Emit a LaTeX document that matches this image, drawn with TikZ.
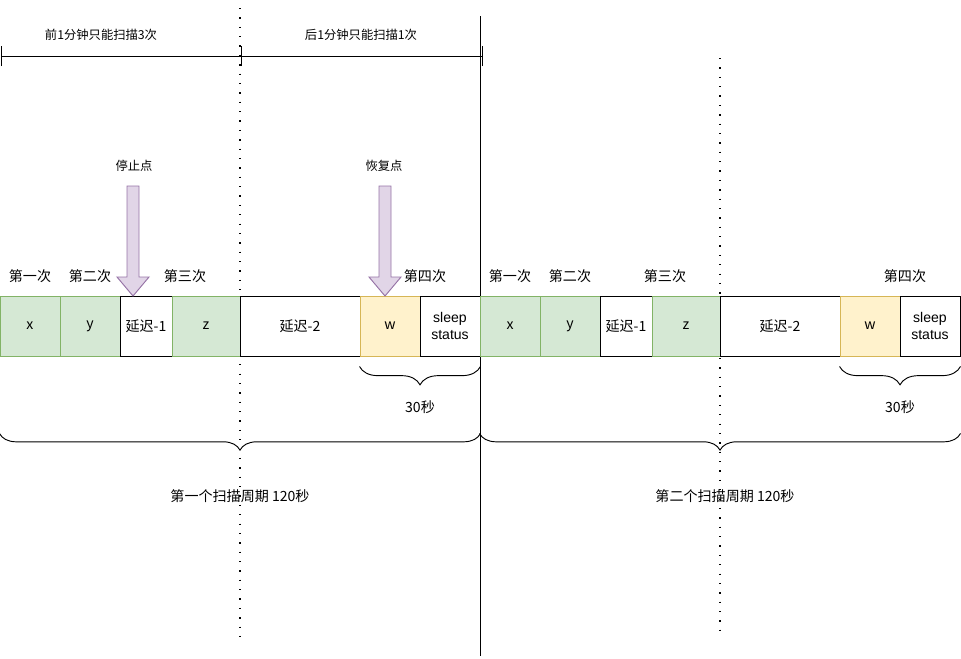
\documentclass[tikz,border=0pt]{standalone}
\usepackage{fontspec}
\setmainfont{Liberation Sans}
\newfontfamily\cjk{Noto Sans CJK SC}
\usetikzlibrary{decorations.pathreplacing}

\tikzset{
  box/.style={draw, line width=0.8pt, minimum height=1.8cm, inner sep=0pt, font=\fontsize{12}{14}\selectfont\cjk, align=center},
  scan/.style={box, fill=scanfill, draw=scanline},
  hit/.style={box, fill=hitfill, draw=hitline},
  label/.style={font=\fontsize{12}{14}\selectfont\cjk, inner sep=1pt},
  small/.style={font=\fontsize{10.5}{12}\selectfont\cjk, inner sep=1pt},
  fatarrow/.style={fill=arrfill, draw=arrline, line width=0.8pt},
  dots/.style={line width=1.1pt, dash pattern=on 1.1pt off 6.9pt},
  curly/.style={decorate, decoration={brace, mirror, amplitude=#1}, line width=0.8pt},
}
\definecolor{scanfill}{HTML}{D5E8D4}
\definecolor{scanline}{HTML}{82B366}
\definecolor{hitfill}{HTML}{FFF2CC}
\definecolor{hitline}{HTML}{D6B656}
\definecolor{arrfill}{HTML}{E1D5E7}
\definecolor{arrline}{HTML}{9673A6}

\begin{document}
\begin{tikzpicture}[x=0.03cm, y=-0.03cm]
\useasboundingbox (0,0) rectangle (961,658);

% time ruler on top
\coordinate (r0) at (1,56);
\coordinate (r1) at (241,56);
\coordinate (r2) at (482,56);
\draw[line width=0.8pt] (r0) -- (r2);
\foreach \r in {r0,r1,r2}
  \draw[line width=0.8pt] ([yshift=-10*0.03cm]\r) -- ([yshift=10*0.03cm]\r);
\node[small] (first) at (101,35) {前1分钟只能扫描3次};
\node[small] (second) at (361,35) {后1分钟只能扫描1次};

% separators
\draw[dots] (240,8) -- (240,640);
\draw[dots] (720,58) -- (720,635);
\draw[line width=0.8pt] (480,16) -- (480,656);

% two scan periods
\foreach \o/\p/\c/\t in {0/a/240/第一个扫描周期 120秒, 480/b/725/第二个扫描周期 120秒} {
  \node[scan, minimum width=1.8cm] (x\p) at (\o+30,326) {x};
  \node[scan, minimum width=1.8cm] (y\p) at (\o+90,326) {y};
  \node[box, minimum width=1.56cm] (d1\p) at (\o+146,326) {延迟-1};
  \node[scan, minimum width=2.04cm] (z\p) at (\o+206,326) {z};
  \node[box, minimum width=3.6cm] (d2\p) at (\o+300,326) {延迟-2};
  \node[hit, minimum width=1.8cm] (w\p) at (\o+390,326) {w};
  \node[box, minimum width=1.8cm, font=\fontsize{12}{14}\selectfont] (s\p) at (\o+450,326) {sleep\\status};

  \node[label] (n1\p) at (\o+30,276) {第一次};
  \node[label] (n2\p) at (\o+90,276) {第二次};
  \node[label] (n3\p) at (\o+185,276) {第三次};
  \node[label] (n4\p) at (\o+425,276) {第四次};

  \draw[curly=0.55cm] ([yshift=-10*0.03cm]w\p.south west) -- ([yshift=-10*0.03cm]s\p.south east);
  \node[label] (half\p) at (\o+420,407) {30秒};

  \draw[curly=0.5cm] ([yshift=-77*0.03cm]x\p.south west) -- ([yshift=-77*0.03cm]s\p.south east);
  \node[label] (cycle\p) at (\c,496) {\t};
}

% stop and resume points
\node[small] (stop) at (134,166) {停止点};
\node[small] (resume) at (384,166) {恢复点};
\draw[fatarrow] (127,186) -- (139,186) -- (139,277) -- (149,277) -- (133,296)
  -- (117,277) -- (127,277) -- cycle;
\draw[fatarrow] (379,186) -- (391,186) -- (391,277) -- (401,277) -- (385,296)
  -- (369,277) -- (379,277) -- cycle;
\end{tikzpicture}
\end{document}
